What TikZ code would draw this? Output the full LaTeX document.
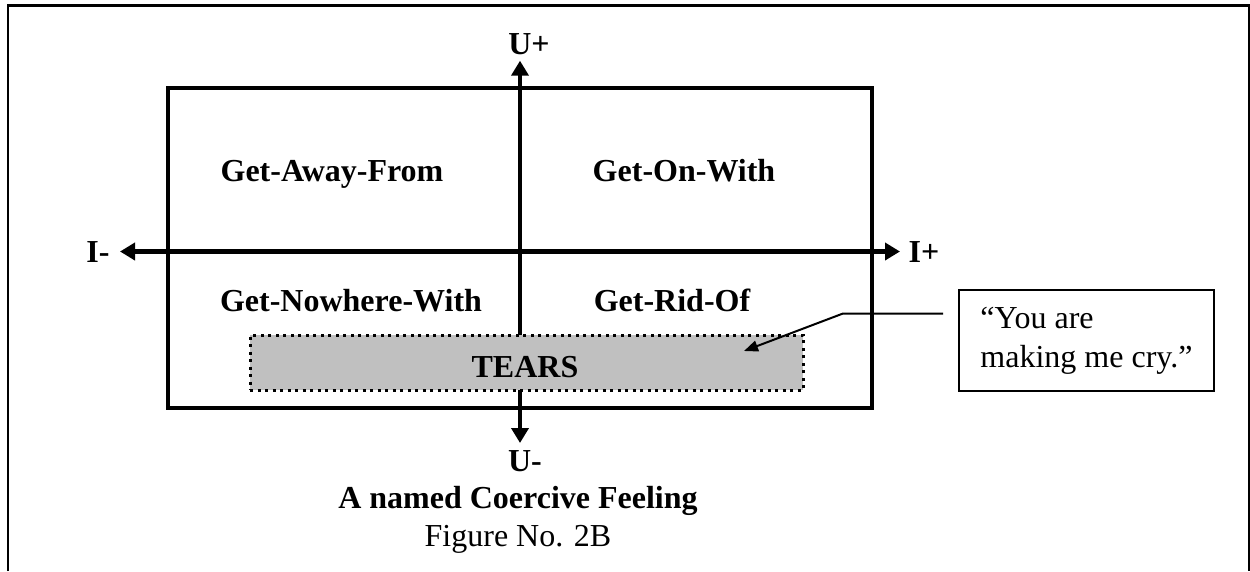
\documentclass[tikz,border=0pt]{standalone}
\usepackage{fontspec}
\setmainfont{Liberation Serif}
\usetikzlibrary{arrows.meta}
\definecolor{tearsgray}{RGB}{192,192,192}
\begin{document}
\begin{tikzpicture}[x=1pt,y=-1pt,
  lbl/.style={font=\fontsize{32}{39}\selectfont\bfseries, inner sep=0pt, anchor=base},
  plain/.style={font=\fontsize{32}{39}\selectfont, inner sep=0pt, anchor=base},
  bigtip/.tip={Triangle[length=15pt,width=17pt]},
  axisline/.style={line width=4.5pt, bigtip-bigtip},
  quadrant/.style={draw, line width=4.5pt},
  tearsbox/.style={draw, fill=tearsgray, line width=3pt, dash pattern=on 3pt off 4.5pt,
    minimum width=553pt, minimum height=55pt, inner sep=0pt},
  calloutbox/.style={draw, line width=2pt, minimum width=255pt, minimum height=101pt,
    align=left, font=\fontsize{32}{39}\selectfont, inner sep=0pt},
  pointer/.style={line width=2pt, -{Triangle[length=14pt,width=11pt]}}]
\useasboundingbox (0,0) rectangle (1250,571);
% outer frame (open at the bottom)
\draw[line width=2.4pt] (7.7,571) -- (7.7,5.3) -- (1249,5.3) -- (1249,571);
% quadrant rectangle
\draw[quadrant] (168,88) rectangle (872,408);
% axes
\coordinate (ytop) at (520,60.7);
\coordinate (ybot) at (520,443);
\coordinate (xl) at (120,251.5);
\coordinate (xr) at (900,251.5);
\draw[axisline] (ybot) -- (ytop);
\draw[axisline] (xl) -- (xr);
% tears box
\node[tearsbox] (tears) at (526.5,362.5) {};
\node[lbl] (tearstxt) at (525,377) {TEARS};
% axis labels
\node[lbl] (uplus) at (529,54.8) {U+};
\node[lbl] (uminus) at (525,471.8) {U-};
\node[lbl] (iminus) at (98,262) {I-};
\node[lbl] (iplus) at (924,262) {I+};
% quadrant labels
\node[lbl] (q1) at (332,181) {Get-Away-From};
\node[lbl] (q2) at (684,181) {Get-On-With};
\node[lbl] (q3) at (351,311) {Get-Nowhere-With};
\node[lbl] (q4) at (672,311) {Get-Rid-Of};
% callout
\node[calloutbox] (callout) at (1086.5,340.5) {“You are\\making me cry.”};
\coordinate (c1) at (943,313.5);
\coordinate (c2) at (843,313.5);
\coordinate (tip) at (744,351);
\draw[pointer] (c1) -- (c2) -- (tip);
% captions
\node[lbl] (title) at (518,508.5) {A named Coercive Feeling};
\node[plain] (fig) at (518,546) {Figure No. 2B};
\end{tikzpicture}
\end{document}
